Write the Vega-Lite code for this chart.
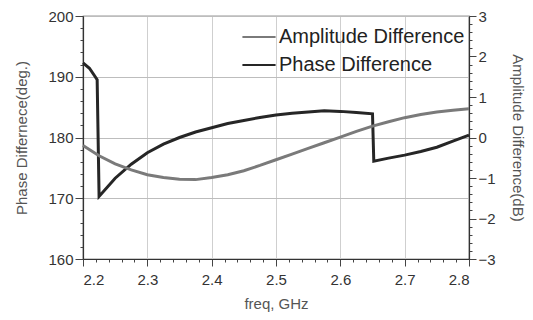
{
  "$schema": "https://vega.github.io/schema/vega-lite/v6.json",
  "width": 386,
  "height": 243,
  "autosize": "none",
  "padding": {"left": 83, "top": 16, "right": 64, "bottom": 61},
  "background": "white",
  "config": {
    "font": "Liberation Sans",
    "view": {"stroke": "#333", "strokeWidth": 1.2},
    "axis": {
      "labelFont": "Liberation Sans",
      "titleFont": "Liberation Sans",
      "labelFontSize": 15,
      "labelColor": "#333",
      "titleFontSize": 15,
      "titleFontWeight": "normal",
      "titleColor": "#555",
      "domainColor": "#333",
      "domainWidth": 1.2,
      "tickColor": "#444"
    }
  },
  "data": {
    "values": [
      {"freq": 2.2, "value": 192.3, "series": "Phase Difference"},
      {"freq": 2.21, "value": 191.4, "series": "Phase Difference"},
      {"freq": 2.219, "value": 190.0, "series": "Phase Difference"},
      {"freq": 2.222, "value": 189.5, "series": "Phase Difference"},
      {"freq": 2.225, "value": 170.3, "series": "Phase Difference"},
      {"freq": 2.25, "value": 173.3, "series": "Phase Difference"},
      {"freq": 2.275, "value": 175.6, "series": "Phase Difference"},
      {"freq": 2.3, "value": 177.5, "series": "Phase Difference"},
      {"freq": 2.325, "value": 178.9, "series": "Phase Difference"},
      {"freq": 2.35, "value": 180.0, "series": "Phase Difference"},
      {"freq": 2.375, "value": 180.9, "series": "Phase Difference"},
      {"freq": 2.4, "value": 181.6, "series": "Phase Difference"},
      {"freq": 2.425, "value": 182.3, "series": "Phase Difference"},
      {"freq": 2.45, "value": 182.8, "series": "Phase Difference"},
      {"freq": 2.475, "value": 183.3, "series": "Phase Difference"},
      {"freq": 2.5, "value": 183.7, "series": "Phase Difference"},
      {"freq": 2.525, "value": 184.0, "series": "Phase Difference"},
      {"freq": 2.55, "value": 184.2, "series": "Phase Difference"},
      {"freq": 2.575, "value": 184.4, "series": "Phase Difference"},
      {"freq": 2.6, "value": 184.3, "series": "Phase Difference"},
      {"freq": 2.625, "value": 184.1, "series": "Phase Difference"},
      {"freq": 2.65, "value": 183.9, "series": "Phase Difference"},
      {"freq": 2.652, "value": 176.1, "series": "Phase Difference"},
      {"freq": 2.675, "value": 176.6, "series": "Phase Difference"},
      {"freq": 2.7, "value": 177.1, "series": "Phase Difference"},
      {"freq": 2.725, "value": 177.7, "series": "Phase Difference"},
      {"freq": 2.75, "value": 178.4, "series": "Phase Difference"},
      {"freq": 2.775, "value": 179.4, "series": "Phase Difference"},
      {"freq": 2.8, "value": 180.4, "series": "Phase Difference"},
      {"freq": 2.2, "value": -0.2, "series": "Amplitude Difference"},
      {"freq": 2.225, "value": -0.45, "series": "Amplitude Difference"},
      {"freq": 2.25, "value": -0.65, "series": "Amplitude Difference"},
      {"freq": 2.275, "value": -0.8, "series": "Amplitude Difference"},
      {"freq": 2.3, "value": -0.92, "series": "Amplitude Difference"},
      {"freq": 2.325, "value": -0.99, "series": "Amplitude Difference"},
      {"freq": 2.35, "value": -1.03, "series": "Amplitude Difference"},
      {"freq": 2.375, "value": -1.04, "series": "Amplitude Difference"},
      {"freq": 2.4, "value": -0.99, "series": "Amplitude Difference"},
      {"freq": 2.425, "value": -0.92, "series": "Amplitude Difference"},
      {"freq": 2.45, "value": -0.82, "series": "Amplitude Difference"},
      {"freq": 2.475, "value": -0.69, "series": "Amplitude Difference"},
      {"freq": 2.5, "value": -0.55, "series": "Amplitude Difference"},
      {"freq": 2.525, "value": -0.41, "series": "Amplitude Difference"},
      {"freq": 2.55, "value": -0.27, "series": "Amplitude Difference"},
      {"freq": 2.575, "value": -0.13, "series": "Amplitude Difference"},
      {"freq": 2.6, "value": 0.01, "series": "Amplitude Difference"},
      {"freq": 2.625, "value": 0.15, "series": "Amplitude Difference"},
      {"freq": 2.65, "value": 0.28, "series": "Amplitude Difference"},
      {"freq": 2.675, "value": 0.39, "series": "Amplitude Difference"},
      {"freq": 2.7, "value": 0.49, "series": "Amplitude Difference"},
      {"freq": 2.725, "value": 0.57, "series": "Amplitude Difference"},
      {"freq": 2.75, "value": 0.63, "series": "Amplitude Difference"},
      {"freq": 2.775, "value": 0.67, "series": "Amplitude Difference"},
      {"freq": 2.8, "value": 0.71, "series": "Amplitude Difference"}
    ]
  },
  "encoding": {
    "x": {
      "field": "freq",
      "type": "quantitative",
      "scale": {"domain": [2.2, 2.8], "nice": false, "zero": false},
      "axis": {
        "title": "freq, GHz",
        "titlePadding": 9,
        "values": [2.2, 2.22, 2.24, 2.26, 2.28, 2.3, 2.32, 2.34, 2.36, 2.38, 2.4, 2.42, 2.44, 2.46, 2.48, 2.5, 2.52, 2.54, 2.56, 2.58, 2.6, 2.62, 2.64, 2.66, 2.68, 2.7, 2.72, 2.74, 2.76, 2.78, 2.8],
        "labelExpr": "abs(datum.value*10 - round(datum.value*10)) < 0.001 ? format(datum.value, '.1f') : ''",
        "labelPadding": 6,
        "tickSize": {"condition": {"test": "abs(datum.value*10 - round(datum.value*10)) < 0.001", "value": 7}, "value": 3},
        "grid": true,
        "gridColor": "#cfcfcf",
        "gridWidth": 1,
        "gridOpacity": {"condition": {"test": "abs(datum.value*10 - round(datum.value*10)) < 0.001", "value": 1}, "value": 0}
      }
    },
    "color": {
      "field": "series",
      "type": "nominal",
      "scale": {"domain": ["Amplitude Difference", "Phase Difference"], "range": ["#7a7a7a", "#262626"]},
      "legend": {
        "title": null,
        "orient": "none",
        "legendX": 158,
        "legendY": 3,
        "symbolType": "stroke",
        "symbolSize": 1100,
        "symbolStrokeWidth": 2.2,
        "labelFontSize": 20,
        "labelLimit": 400,
        "labelFont": "Liberation Sans",
        "labelColor": "#222",
        "labelOffset": 2,
        "rowPadding": -6,
        "padding": 0
      }
    }
  },
  "layer": [
    {
      "transform": [{"filter": "datum.series === 'Phase Difference'"}],
      "mark": {"type": "line", "strokeWidth": 3},
      "encoding": {
        "y": {
          "field": "value",
          "type": "quantitative",
          "scale": {"domain": [160, 200], "nice": false, "zero": false},
          "axis": {
            "title": "Phase Differnece(deg.)",
            "titlePadding": 18,
            "values": [160, 162, 164, 166, 168, 170, 172, 174, 176, 178, 180, 182, 184, 186, 188, 190, 192, 194, 196, 198, 200],
            "labelExpr": "datum.value % 10 === 0 ? datum.label : ''",
            "tickSize": {"condition": {"test": "datum.value % 10 === 0", "value": 8}, "value": 3},
            "labelPadding": 2,
            "grid": true,
            "gridColor": "#bdbdbd",
            "gridWidth": 1,
            "gridOpacity": {"condition": {"test": "datum.value % 10 === 0", "value": 1}, "value": 0}
          }
        }
      }
    },
    {
      "transform": [{"filter": "datum.series === 'Amplitude Difference'"}],
      "mark": {"type": "line", "strokeWidth": 3},
      "encoding": {
        "y": {
          "field": "value",
          "type": "quantitative",
          "scale": {"domain": [-3, 3], "nice": false, "zero": false},
          "axis": {
            "orient": "right",
            "title": "Amplitude Difference(dB)",
            "titlePadding": 14,
            "values": [-3, -2.8, -2.6, -2.4, -2.2, -2, -1.8, -1.6, -1.4, -1.2, -1, -0.8, -0.6, -0.4, -0.2, 0, 0.2, 0.4, 0.6, 0.8, 1, 1.2, 1.4, 1.6, 1.8, 2, 2.2, 2.4, 2.6, 2.8, 3],
            "labelExpr": "abs(datum.value - round(datum.value)) < 0.001 ? format(round(datum.value), 'd') : ''",
            "tickSize": {"condition": {"test": "abs(datum.value - round(datum.value)) < 0.001", "value": 7}, "value": 3},
            "labelPadding": 2,
            "grid": false
          }
        }
      }
    }
  ],
  "resolve": {"scale": {"y": "independent"}}
}
